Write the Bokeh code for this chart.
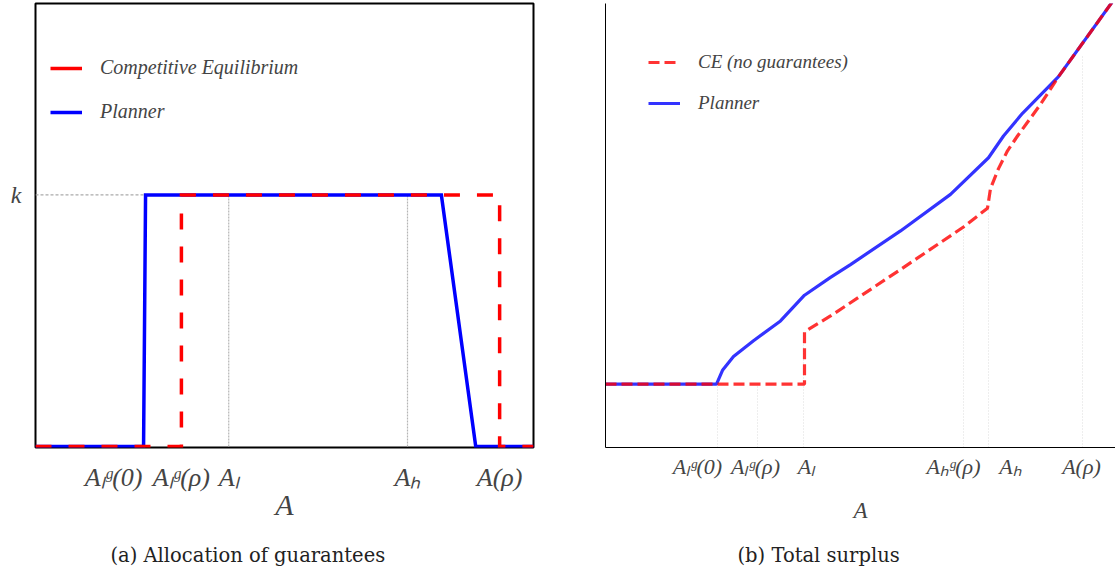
from bokeh.plotting import figure
from bokeh.layouts import row
from bokeh.models import Range1d, FixedTicker, Legend, LegendItem, Title
from bokeh.embed import file_html
from bokeh.resources import INLINE

# ---------------- Panel (a): allocation of guarantees ----------------
a_ticks = [1.57, 2.93, 3.88, 7.47, 9.32]
a_tick_labels = ["Aₗᵍ(0)", "Aₗᵍ(ρ)", "Aₗ", "Aₕ", "A(ρ)"]
a_ce_x = [0, 2.93, 2.93, 9.32, 9.32, 10]
a_ce_y = [0, 0, 1, 1, 0, 0]
a_pl_x = [0, 2.17, 2.21, 8.15, 8.84, 10]
a_pl_y = [0, 0, 1, 1, 0, 0]
a_k_x = [0, 2.17]
a_k_y = [1, 1]
a_guide_x = [3.88, 7.47]
a_guide_top = [1, 1]

# ---------------- Panel (b): total surplus ----------------
b_ticks = [1.84, 3.0, 4.02, 6.96, 8.1, 9.52]
b_tick_labels = ["Aₗᵍ(0)", "Aₗᵍ(ρ)", "Aₗ", "Aₕᵍ(ρ)", "Aₕ", "A(ρ)"]
b_guide_x = [2.24, 3.04, 3.96, 7.16, 7.66, 9.54]
b_guide_top = [1.6, 1.6, 2.925, 5.575, 6.05, 9.9]
b_pl_x = [0, 2.22, 2.34, 2.56, 2.96, 3.5, 3.98, 4.5, 4.9, 5.9, 6.9, 7.66, 7.96, 8.34, 9.06, 10.4]
b_pl_y = [1.6, 1.6, 1.95, 2.3, 2.7, 3.2, 3.85, 4.3, 4.625, 5.475, 6.4, 7.325, 7.875, 8.45, 9.375, 11.73]
b_ce_x = [0, 3.98, 3.98, 4.5, 5.9, 7.16, 7.64, 7.7, 7.86, 8.04, 8.24, 8.7, 9.06, 10.4]
b_ce_y = [1.6, 1.6, 2.925, 3.325, 4.5, 5.575, 6.05, 6.55, 7.05, 7.5, 7.875, 8.675, 9.375, 11.73]

SERIF = "Liberation Serif"
CAP_FONT = "DejaVu Serif"
H = 584
TOP = 3
BOTTOM = 136

# ---------- figure a ----------
p1 = figure(width=595, height=H, output_backend="svg", toolbar_location=None,
            x_range=Range1d(0, 10), y_range=Range1d(-0.004, 1.761),
            min_border_left=35, min_border_right=62, min_border_top=TOP, min_border_bottom=BOTTOM)
p1.grid.visible = False
p1.outline_line_color = "black"
p1.outline_line_width = 2
p1.background_fill_color = "white"
p1.border_fill_color = "white"

p1.line(a_k_x, a_k_y, line_color="#aaaaaa", line_width=1.2, line_dash="3 2")
p1.segment(x0=a_guide_x, y0=[0] * len(a_guide_x), x1=a_guide_x, y1=a_guide_top,
           line_color="#b5b5b5", line_width=1.2, line_dash="2 1")
p1.line(a_pl_x, a_pl_y, line_color="#0000ff", line_width=3.5, line_join="miter")
p1.line(a_ce_x, a_ce_y, line_color="#ff0000", line_width=3.5, line_dash="16 17", line_join="miter")
# legend handles (solid short handles as in the reference), drawn off-frame
lg_ce = p1.line([-5, -4], [-5, -5], line_color="#ff0000", line_width=3.5)
lg_pl = p1.line([-5, -4], [-5, -5], line_color="#0000ff", line_width=3.5)
leg1 = Legend(items=[LegendItem(label="Competitive Equilibrium", renderers=[lg_ce]),
                     LegendItem(label="Planner", renderers=[lg_pl])],
              location=(15, 324), glyph_width=32, glyph_height=20, label_height=20,
              spacing=21, padding=0, margin=0, label_standoff=18,
              border_line_alpha=0, background_fill_alpha=0,
              label_text_font=SERIF, label_text_font_style="italic", label_text_font_size="20px")
p1.add_layout(leg1)

p1.xaxis.ticker = FixedTicker(ticks=a_ticks)
p1.xaxis.major_label_overrides = {t: l for t, l in zip(a_ticks, a_tick_labels)}
p1.xaxis.axis_line_color = None
p1.xaxis.major_tick_line_color = None
p1.xaxis.minor_tick_line_color = None
p1.xaxis.major_label_standoff = 9
p1.xaxis.major_label_text_font = SERIF
p1.xaxis.major_label_text_font_style = "italic"
p1.xaxis.major_label_text_font_size = "26px"
p1.xaxis.axis_label = "A"
p1.xaxis.axis_label_text_font = SERIF
p1.xaxis.axis_label_text_font_style = "italic"
p1.xaxis.axis_label_text_font_size = "30px"
p1.xaxis.axis_label_standoff = -7

p1.yaxis.ticker = FixedTicker(ticks=[1])
p1.yaxis.major_label_overrides = {1: "k"}
p1.yaxis.axis_line_color = None
p1.yaxis.major_tick_line_color = None
p1.yaxis.minor_tick_line_color = None
p1.yaxis.major_label_standoff = 8
p1.yaxis.major_label_text_font = SERIF
p1.yaxis.major_label_text_font_style = "italic"
p1.yaxis.major_label_text_font_size = "24px"

p1.add_layout(Title(text="(a) Allocation of guarantees", align="left", offset=75, standoff=36,
                    text_font=CAP_FONT, text_font_style="normal", text_font_size="19.5px",
                    text_color="#222222"), "below")

# ---------- figure b ----------
p2 = figure(width=520, height=H, output_backend="svg", toolbar_location=None,
            x_range=Range1d(0, 10.2), y_range=Range1d(0, 11.225),
            min_border_left=10, min_border_right=0, min_border_top=TOP, min_border_bottom=BOTTOM)
p2.grid.visible = False
p2.outline_line_color = None
p2.background_fill_color = "white"
p2.border_fill_color = "white"

p2.segment(x0=b_guide_x, y0=[0] * len(b_guide_x), x1=b_guide_x, y1=b_guide_top,
           line_color="#dcdcdc", line_width=1, line_dash="1 2")
r_pl = p2.line(b_pl_x, b_pl_y, line_color="#0000ff", line_alpha=0.8, line_width=3.2)
r_ce = p2.line(b_ce_x, b_ce_y, line_color="#ff0000", line_alpha=0.8, line_width=3.2, line_dash="11 5")
leg2 = Legend(items=[LegendItem(label="CE (no guarantees)", renderers=[r_ce]),
                     LegendItem(label="Planner", renderers=[r_pl])],
              location=(43, 333), glyph_width=32, glyph_height=20, label_height=20,
              spacing=19, padding=0, margin=0, label_standoff=18,
              border_line_alpha=0, background_fill_alpha=0,
              label_text_font=SERIF, label_text_font_style="italic", label_text_font_size="19px")
p2.add_layout(leg2)

p2.xaxis.ticker = FixedTicker(ticks=b_ticks)
p2.xaxis.major_label_overrides = {t: l for t, l in zip(b_ticks, b_tick_labels)}
p2.xaxis.axis_line_color = "black"
p2.xaxis.axis_line_width = 1
p2.xaxis.major_tick_line_color = None
p2.xaxis.minor_tick_line_color = None
p2.xaxis.major_label_standoff = 0
p2.xaxis.major_label_text_font = SERIF
p2.xaxis.major_label_text_font_style = "italic"
p2.xaxis.major_label_text_font_size = "22px"
p2.xaxis.axis_label = "A"
p2.xaxis.axis_label_text_font = SERIF
p2.xaxis.axis_label_text_font_style = "italic"
p2.xaxis.axis_label_text_font_size = "23px"
p2.xaxis.axis_label_standoff = 16

p2.yaxis.ticker = FixedTicker(ticks=[])
p2.yaxis.axis_line_color = "black"
p2.yaxis.axis_line_width = 1
p2.yaxis.major_tick_line_color = None
p2.yaxis.minor_tick_line_color = None

p2.add_layout(Title(text="(b) Total surplus", align="left", offset=132, standoff=32,
                    text_font=CAP_FONT, text_font_style="normal", text_font_size="19.5px",
                    text_color="#222222"), "below")

layout = row(p1, p2)
open("out.html", "w").write(file_html(layout, INLINE))
